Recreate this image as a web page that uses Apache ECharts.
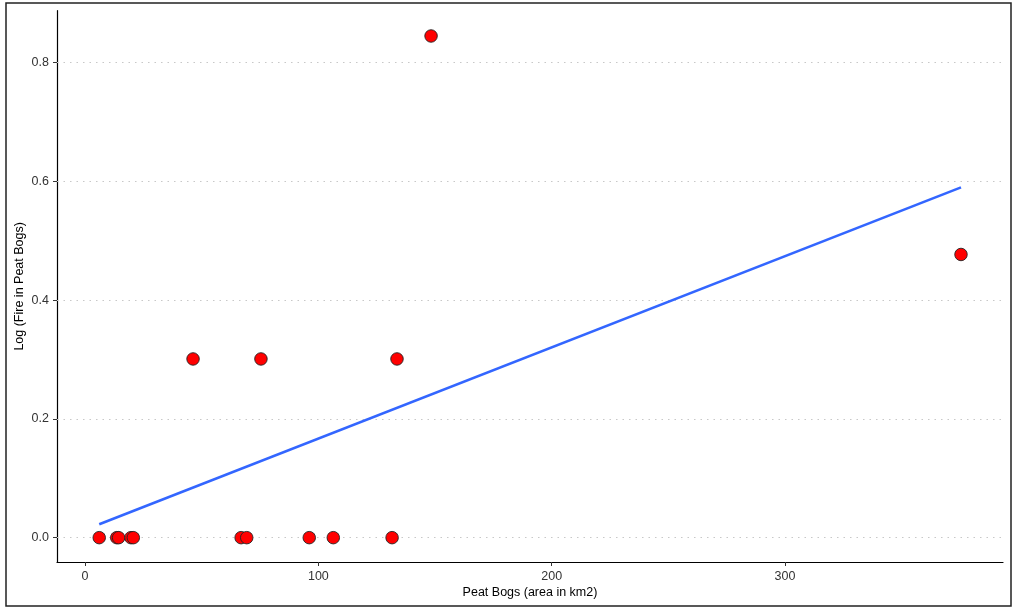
<!DOCTYPE html>
<html>
<head>
<meta charset="utf-8">
<script src="https://cdn.jsdelivr.net/npm/echarts@6/dist/echarts.min.js"></script>
<style>
html,body{margin:0;padding:0;background:#fff;}
#chart{width:1013px;height:608px;}
</style>
</head>
<body>
<div id="chart"></div>
<script>
// Peat bog area (km2) and log10 fire counts
var peatArea = [6.1, 13.6, 14.4, 19.7, 20.7, 46.3, 66.9, 69.3, 75.4, 96.1, 106.4, 131.6, 133.7, 148.3, 375.4];
var logFire  = [0, 0, 0, 0, 0, 0.301, 0, 0, 0.301, 0, 0, 0, 0.301, 0.845, 0.477];
// Linear fit end points
var fitX = [6.1, 375.4];
var fitY = [0.0226, 0.590];
var xTicks = [0, 100, 200, 300];
var yTicks = [0, 0.2, 0.4, 0.6, 0.8];

var points = peatArea.map(function(x, i){ return [x, logFire[i]]; });
var fit = fitX.map(function(x, i){ return [x, fitY[i]]; });

var chart = echarts.init(document.getElementById('chart'), null, {renderer:'canvas'});
var font = 'Liberation Sans, Arial, Helvetica, sans-serif';
chart.setOption({
  animation:false,
  backgroundColor:'#fff',
  graphic:[{
    type:'rect', silent:true, z:-10,
    shape:{x:6,y:3,width:1005,height:603},
    style:{fill:'none', stroke:'#222', lineWidth:1.5}
  }],
  grid:{left:57, right:10, top:10.7, bottom:46, containLabel:false},
  xAxis:{
    type:'value', min:-12, max:393.4,
    name:'Peat Bogs (area in km2)', nameLocation:'middle', nameGap:24, nameMoveOverlap:false,
    nameTextStyle:{color:'#000', fontSize:12.5, fontFamily:font},
    axisLine:{show:true, onZero:false, lineStyle:{color:'#000', width:1.2}},
    axisTick:{show:true, length:4, customValues:xTicks, lineStyle:{color:'#333', width:1}},
    axisLabel:{customValues:xTicks, color:'#333', fontSize:12.5, fontFamily:font, margin:8},
    splitLine:{show:false}
  },
  yAxis:{
    type:'value', min:-0.041, max:0.8876,
    name:'Log (Fire in Peat Bogs)', nameLocation:'middle', nameGap:31, nameMoveOverlap:false,
    nameTextStyle:{color:'#000', fontSize:12.5, fontFamily:font},
    axisLine:{show:true, onZero:false, lineStyle:{color:'#000', width:1.2}},
    axisTick:{show:true, length:4, customValues:yTicks, lineStyle:{color:'#333', width:1}},
    axisLabel:{customValues:yTicks, color:'#333', fontSize:12.5, fontFamily:font, margin:8,
      formatter:function(v){ return v.toFixed(1); }},
    splitLine:{show:false}
  },
  series:[
    {
      type:'line', data:fit, showSymbol:false, symbol:'none', silent:true, z:3,
      lineStyle:{color:'#3366FF', width:2.6},
      markLine:{
        silent:true, symbol:'none', label:{show:false}, z:1,
        lineStyle:{color:'#c8c8c8', type:[1.5,5], width:1.2},
        data: yTicks.map(function(v){ return {yAxis:v}; })
      }
    },
    {
      type:'scatter', data:points, symbol:'circle', symbolSize:12.5, z:5,
      itemStyle:{color:'#FF0000', borderColor:'#222', borderWidth:0.9, opacity:1}
    }
  ]
});
</script>
</body>
</html>
